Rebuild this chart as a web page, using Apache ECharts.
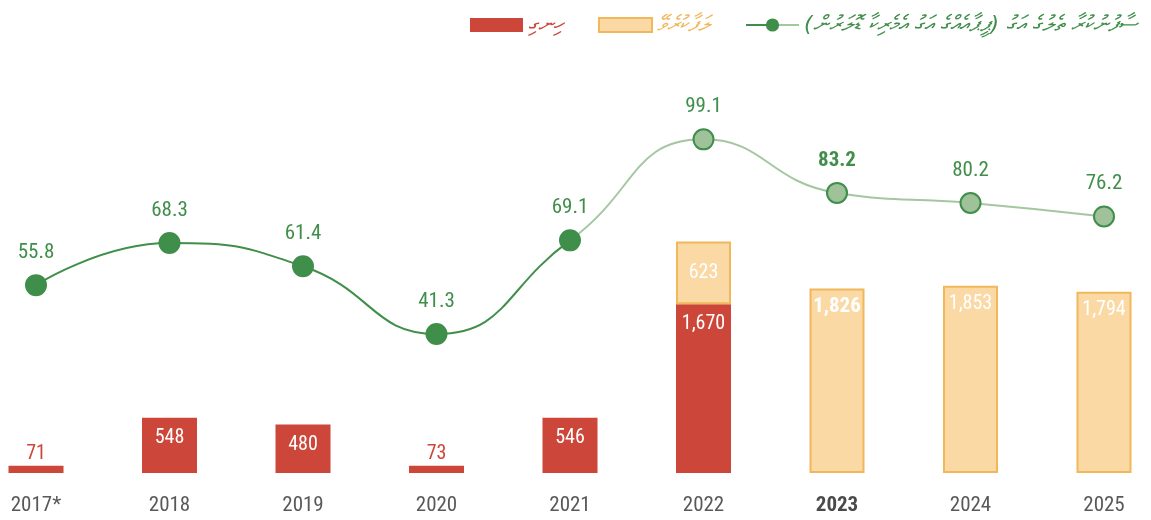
<!DOCTYPE html>
<html>
<head>
<meta charset="utf-8">
<script src="https://cdn.jsdelivr.net/npm/echarts@6/dist/echarts.min.js"></script>
<style>
html,body{margin:0;padding:0;background:#fff;}
#c{width:1151px;height:520px;}
</style>
</head>
<body>
<div id="c"></div>
<script>
const categories = ['2017*','2018','2019','2020','2021','2022','2023','2024','2025'];
const actualValues = [71, 548, 480, 73, 546, 1670, null, null, null];
const projectedValues = [null, null, null, null, null, 623, 1826, 1853, 1794];
const oilPrice = [55.8, 68.3, 61.4, 41.3, 69.1, 99.1, 83.2, 80.2, 76.2];
const boldCategory = '2023';
const lastDarkIndex = 4;
const seriesNames = ['ހިނގި', 'ލަފާކުރެވޭ', 'ސާފުނުކުރާ ތެލުގެ އަގު (ޕީޕާއެއްގެ އަގު އެމެރިކާ ޑޮލަރުން)'];

const FONT = "'Roboto Condensed','Liberation Sans Narrow',Roboto,sans-serif";
const THAANA = "'DejaVu Sans',sans-serif";
const RED = '#cc4739', ORANGE_FILL = '#fad9a5', ORANGE_BORDER = '#f1b85b';
const DARK_G = '#3f8e4a', LIGHT_G = '#a4c7a0', POINT_LIGHT = '#a0c29b';

const split = lastDarkIndex / (categories.length - 1);

function legendFor(i, left, color) {
  return {
    left: left, top: 9, itemWidth: 53, itemHeight: 14, itemGap: 8,
    data: [seriesNames[i]],
    textStyle: {fontFamily: THAANA, fontSize: 22, fontStyle: 'italic', color: color}
  };
}

const chart = echarts.init(document.getElementById('c'));
chart.setOption({
  animation: false,
  textStyle: {fontFamily: FONT},
  grid: {left: 36, right: 47, top: 69, bottom: 47, containLabel: false},
  legend: [
    Object.assign(legendFor(0, 465, RED), {icon: 'rect'}),
    Object.assign(legendFor(1, 593, ORANGE_BORDER), {icon: 'rect'}),
    legendFor(2, 740, DARK_G)
  ],
  xAxis: {
    type: 'category', data: categories, boundaryGap: false,
    axisLine: {show: false}, axisTick: {show: false},
    axisLabel: {
      margin: 22, fontSize: 21, color: '#595959', fontFamily: FONT,
      formatter: v => v === boldCategory ? '{b|' + v + '}' : v,
      rich: {b: {fontWeight: 'bold', fontSize: 21, color: '#4a4a4a', fontFamily: FONT}}
    }
  },
  yAxis: [
    {type: 'value', min: 0, max: 4000, show: false, splitLine: {show: false}},
    {type: 'value', min: 0, max: 120, show: false, splitLine: {show: false}}
  ],
  series: [
    {
      name: seriesNames[0], type: 'bar', stack: 's', barWidth: 55, yAxisIndex: 0,
      itemStyle: {color: RED},
      data: actualValues.map(v => v == null ? null : {
        value: v,
        label: v < 200
          ? {show: true, position: 'top', distance: 2, color: RED, fontSize: 20}
          : {show: true, position: 'insideTop', distance: 10, color: '#fff', fontSize: 20}
      }),
      label: {show: true, formatter: p => Number(p.value).toLocaleString('en-US'), fontFamily: FONT}
    },
    {
      name: seriesNames[1], type: 'bar', stack: 's', barWidth: 55, yAxisIndex: 0,
      itemStyle: {color: ORANGE_FILL, borderColor: ORANGE_BORDER, borderWidth: 2},
      data: projectedValues.map((v, i) => v == null ? null : {
        value: v,
        label: actualValues[i] != null
          ? {show: true, position: 'inside', color: '#fff', fontSize: 20}
          : {show: true, position: 'insideTop', distance: 8, color: '#fff',
             fontSize: categories[i] === boldCategory ? 21 : 20,
             fontWeight: categories[i] === boldCategory ? 'bold' : 'normal'}
      }),
      label: {show: true, formatter: p => Number(p.value).toLocaleString('en-US'), fontFamily: FONT}
    },
    {
      name: seriesNames[2], type: 'line', yAxisIndex: 1, smooth: 0.5, z: 5,
      symbol: 'circle', symbolSize: 20,
      lineStyle: {
        width: 2,
        color: new echarts.graphic.LinearGradient(0, 0, 1, 0, [
          {offset: 0, color: DARK_G}, {offset: split, color: DARK_G},
          {offset: split, color: LIGHT_G}, {offset: 1, color: LIGHT_G}
        ])
      },
      itemStyle: {color: DARK_G, borderColor: DARK_G, borderWidth: 2},
      data: oilPrice.map((v, i) => ({
        value: v,
        itemStyle: i > lastDarkIndex ? {color: POINT_LIGHT, borderColor: DARK_G, borderWidth: 2} : {color: DARK_G},
        label: {fontWeight: categories[i] === boldCategory ? 'bold' : 'normal'}
      })),
      label: {show: true, position: 'top', distance: 11, color: DARK_G, fontSize: 21, fontFamily: FONT,
              formatter: p => Number(p.value).toFixed(1)}
    }
  ]
});
</script>
</body>
</html>
